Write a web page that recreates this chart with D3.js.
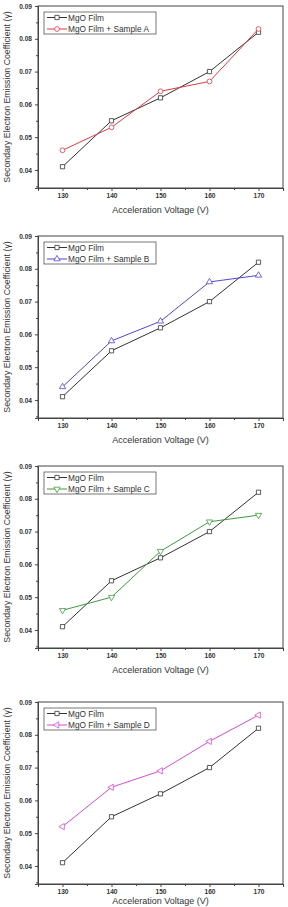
<!DOCTYPE html>
<html>
<head>
<meta charset="utf-8">
<script src="https://cdn.jsdelivr.net/npm/d3@7"></script>
<style>
  body { margin: 0; background: #fff; }
  svg { display: block; font-family: "Liberation Sans", Arial, sans-serif; }
</style>
</head>
<body>
<div id="chart"></div>
<script>
// data
const voltage = [130, 140, 150, 160, 170];
const mgoFilm = [0.041, 0.055, 0.062, 0.070, 0.082];
const sampleA = [0.046, 0.053, 0.064, 0.067, 0.083];
const sampleB = [0.044, 0.058, 0.064, 0.076, 0.078];
const sampleC = [0.046, 0.050, 0.064, 0.073, 0.075];
const sampleD = [0.052, 0.064, 0.069, 0.078, 0.086];
const sampleNames = ["MgO Film + Sample A", "MgO Film + Sample B", "MgO Film + Sample C", "MgO Film + Sample D"];
const sampleColors = ["#dd3b47", "#5147cf", "#3f9a3f", "#d64bd6"];
const sampleMarkers = ["circle", "triUp", "triDown", "triLeft"];
const xTicks = [130, 140, 150, 160, 170];
const yTicks = [0.04, 0.05, 0.06, 0.07, 0.08, 0.09];

const ctx = {
    W: 288,
    H: 907,
    panelTops: [6, 236, 466, 702],
    plotLeft: 38,
    plotRight: 283,
    plotH: 182
};

const svg = d3.select("#chart").append("svg")
    .attr("width", ctx.W)
    .attr("height", ctx.H);

function markerPath(kind) {
    if (kind === "square") return d3.symbol(d3.symbolSquare, 18)();
    if (kind === "circle") return d3.symbol(d3.symbolCircle, 18)();
    return d3.symbol(d3.symbolTriangle, 17)();
}
function markerRotate(kind) {
    if (kind === "triDown") return 180;
    if (kind === "triLeft") return -90;
    return 0;
}

function drawPanel(i, sample) {
    const top = ctx.panelTops[i];
    const g = svg.append("g").attr("class", "panel");

    const x = d3.scaleLinear().domain([125, 175]).range([ctx.plotLeft, ctx.plotRight]);
    const y = d3.scaleLinear().domain([0.0345, 0.09]).range([top + ctx.plotH, top]);

    // frame
    g.append("rect")
        .attr("x", ctx.plotLeft).attr("y", top)
        .attr("width", ctx.plotRight - ctx.plotLeft).attr("height", ctx.plotH)
        .attr("fill", "none").attr("stroke", "#444").attr("stroke-width", 1);

    // axes: major + minor ticks outward
    const xMinor = d3.range(125, 176, 5).filter(v => !xTicks.includes(v));
    const yMinor = d3.range(0.035, 0.0901, 0.005).filter(v => !yTicks.some(t => Math.abs(t - v) < 1e-6));

    g.append("g")
        .attr("transform", `translate(0,${top + ctx.plotH})`)
        .call(d3.axisBottom(x).tickValues(xTicks).tickSize(3).tickPadding(2).tickFormat(d3.format("d")));
    g.append("g")
        .attr("transform", `translate(0,${top + ctx.plotH})`)
        .call(d3.axisBottom(x).tickValues(xMinor).tickSize(2).tickFormat(""));

    g.append("g")
        .attr("transform", `translate(${ctx.plotLeft},0)`)
        .call(d3.axisLeft(y).tickValues(yTicks).tickSize(3).tickPadding(3).tickFormat(d3.format(".2f")));
    g.append("g")
        .attr("transform", `translate(${ctx.plotLeft},0)`)
        .call(d3.axisLeft(y).tickValues(yMinor).tickSize(2).tickFormat(""));

    g.selectAll(".domain").attr("stroke", "#444");
    g.selectAll(".tick line").attr("stroke", "#444");
    g.selectAll(".tick text")
        .attr("fill", "#333")
        .style("font-size", "6.6px")
        .style("font-weight", "bold");

    // axis titles (last one sits at the bottom edge, nudged up to stay visible)
    const titleY = i === 3 ? ctx.H - 3 : top + ctx.plotH + 25;
    g.append("text")
        .attr("x", (ctx.plotLeft + ctx.plotRight) / 2)
        .attr("y", titleY)
        .attr("text-anchor", "middle")
        .attr("fill", "#333")
        .style("font-size", "9px")
        .text("Acceleration Voltage (V)");

    g.append("text")
        .attr("transform", `translate(10,${top + ctx.plotH / 2}) rotate(-90)`)
        .attr("text-anchor", "middle")
        .attr("fill", "#333")
        .style("font-size", "8.8px")
        .text("Secondary Electron Emission Coefficient (\u03B3)");

    // series
    const series = [
        { name: "MgO Film", values: mgoFilm, color: "#333", marker: "square" },
        { name: sampleNames[i], values: sample, color: sampleColors[i], marker: sampleMarkers[i] }
    ];

    const line = d3.line()
        .x((d, k) => x(voltage[k]))
        .y(d => y(d));

    series.forEach(s => {
        g.append("path")
            .attr("d", line(s.values))
            .attr("fill", "none")
            .attr("stroke", s.color)
            .attr("stroke-width", 1);
        g.selectAll(null)
            .data(s.values)
            .enter()
            .append("path")
            .attr("d", markerPath(s.marker))
            .attr("transform", (d, k) => `translate(${x(voltage[k])},${y(d)}) rotate(${markerRotate(s.marker)})`)
            .attr("fill", "#fff")
            .attr("stroke", s.color)
            .attr("stroke-width", 0.8);
    });

    // legend
    const lg = g.append("g").attr("transform", `translate(44,${top + 6})`);
    lg.append("rect")
        .attr("width", 112).attr("height", 22)
        .attr("fill", "#fff").attr("stroke", "#555").attr("stroke-width", 0.8);
    series.forEach((s, k) => {
        const ry = 5.5 + k * 11.5;
        lg.append("line")
            .attr("x1", 3).attr("x2", 23).attr("y1", ry).attr("y2", ry)
            .attr("stroke", s.color).attr("stroke-width", 1);
        lg.append("path")
            .attr("d", markerPath(s.marker))
            .attr("transform", `translate(13,${ry}) rotate(${markerRotate(s.marker)})`)
            .attr("fill", "#fff").attr("stroke", s.color).attr("stroke-width", 0.8);
        lg.append("text")
            .attr("x", 24).attr("y", ry + 3)
            .attr("fill", "#333")
            .style("font-size", "8.3px")
            .text(s.name);
    });
}

[sampleA, sampleB, sampleC, sampleD].forEach((s, i) => drawPanel(i, s));
</script>
</body>
</html>
